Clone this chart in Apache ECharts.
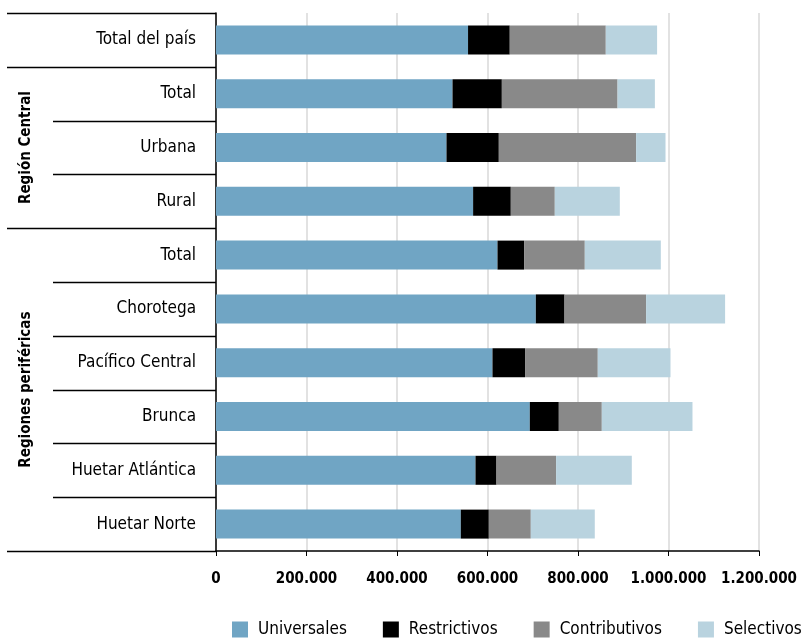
<!DOCTYPE html>
<html>
<head>
<meta charset="utf-8">
<script src="https://cdn.jsdelivr.net/npm/echarts@6/dist/echarts.min.js"></script>
<style>
    html, body {margin:0;padding:0;background:#ffffff;}
    #chart {width:803px;height:641px;}
</style>
</head>
<body>
<div id="chart"></div>
<script>
    var categorias = ['Total del país', 'Total', 'Urbana', 'Rural', 'Total', 'Chorotega',
        'Pacífico Central', 'Brunca', 'Huetar Atlántica', 'Huetar Norte'];

    var universales  = [557000, 522700, 509400, 568200, 622100, 706800, 611000, 693500, 573500, 541000];
    var restrictivos = [92200, 109000, 115600, 83300, 58800, 63400, 72000, 64100, 46400, 61900];
    var contributivos = [212200, 255700, 303400, 97200, 134100, 180300, 160700, 95000, 131700, 92800];
    var selectivos   = [113400, 82500, 65000, 143700, 168000, 174600, 160700, 200400, 167300, 141400];

    // grupos de la izquierda: [texto, primer indice, ultimo indice]
    var grupos = [['Región Central', 1, 3], ['Regiones periféricas', 4, 9]];

    var fuente = '"DejaVu Sans Condensed", sans-serif';

    var chart = echarts.init(document.getElementById('chart'));

    function miles(v) {
        return String(v).replace(/\B(?=(\d{3})+(?!\d))/g, '.');
    }

    var option = {
        animation: false,
        textStyle: {fontFamily: fuente},
        grid: {left: 216, right: 44, top: 13, bottom: 90},
        legend: {
            left: 232,
            right: -30,
            top: 621,
            padding: 0,
            itemWidth: 16,
            itemHeight: 16,
            itemGap: 36,
            icon: 'rect',
            textStyle: {fontSize: 17, color: '#000', fontFamily: fuente, padding: [0, 0, 0, 5]},
            data: ['Universales', 'Restrictivos', 'Contributivos', 'Selectivos']
        },
        xAxis: {
            type: 'value',
            min: 0,
            max: 1200000,
            interval: 200000,
            axisLine: {show: true, lineStyle: {color: '#000', width: 1.5}},
            axisTick: {show: true, length: 5, lineStyle: {color: '#000'}},
            splitLine: {show: true, lineStyle: {color: '#d9d9d9', width: 1.5}},
            axisLabel: {
                fontSize: 15, fontWeight: 'bold', color: '#000', margin: 21, fontFamily: fuente,
                showMaxLabel: true, showMinLabel: true, hideOverlap: false,
                formatter: miles
            }
        },
        yAxis: {
            type: 'category',
            inverse: true,
            data: categorias,
            axisLine: {show: true, lineStyle: {color: '#000', width: 1.5}},
            axisTick: {show: false},
            axisLabel: {fontSize: 17, color: '#000', margin: 20, fontFamily: fuente}
        },
        series: [
            {name: 'Universales', type: 'bar', stack: 'a', barWidth: 29, itemStyle: {color: '#70a5c4'}, data: universales},
            {name: 'Restrictivos', type: 'bar', stack: 'a', barWidth: 29, itemStyle: {color: '#000000'}, data: restrictivos},
            {name: 'Contributivos', type: 'bar', stack: 'a', barWidth: 29, itemStyle: {color: '#898989'}, data: contributivos},
            {name: 'Selectivos', type: 'bar', stack: 'a', barWidth: 29, itemStyle: {color: '#b9d3df'}, data: selectivos}
        ]
    };
    chart.setOption(option);

    // lineas separadoras y etiquetas de grupo, a partir de la escala del eje
    var c0 = chart.convertToPixel({yAxisIndex: 0}, 0);
    var c1 = chart.convertToPixel({yAxisIndex: 0}, 1);
    var banda = c1 - c0;
    var ejeX = chart.convertToPixel({xAxisIndex: 0}, 0);
    function borde(i) { return chart.convertToPixel({yAxisIndex: 0}, i) - banda / 2; }

    var grandes = {0: 1, 1: 1, 4: 1, 10: 1};
    var elementos = [];
    for (var i = 0; i <= categorias.length; i++) {
        var y = Math.round(borde(i)) + 0.5;
        elementos.push({
            type: 'line',
            shape: {x1: grandes[i] ? 7 : 53, y1: y, x2: ejeX, y2: y},
            style: {stroke: '#000', lineWidth: 1.5}
        });
    }
    grupos.forEach(function (g) {
        var yc = (borde(g[1]) + borde(g[2] + 1)) / 2;
        elementos.push({
            type: 'text',
            x: 26, y: yc,
            rotation: Math.PI / 2,
            style: {
                text: g[0], fontSize: 15, fontWeight: 'bold', fill: '#000',
                fontFamily: fuente, align: 'center', verticalAlign: 'middle'
            }
        });
    });
    chart.setOption({graphic: elementos});
</script>
</body>
</html>
